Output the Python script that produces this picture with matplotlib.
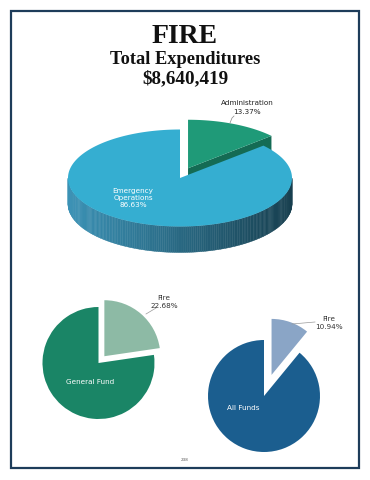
import numpy as np
import matplotlib.pyplot as plt
from matplotlib.patches import Polygon, Rectangle
from matplotlib.colors import to_rgb

# --- data ---
title = 'FIRE'
subtitle = 'Total Expenditures'
total = '$8,640,419'

dept_labels = ['Administration', 'Emergency\nOperations']
dept_values = [13.37, 86.63]
dept_colors = ['#1f9a78', '#35aed1']

gf_labels = ['Fire', 'General Fund']
gf_values = [22.68, 77.32]
gf_colors = ['#8dbaa5', '#1a8566']

af_labels = ['Fire', 'All Funds']
af_values = [10.94, 89.06]
af_colors = ['#8aa5c6', '#1b5e8f']

page_no = '238'

W, H = 370, 480
fig = plt.figure(figsize=(W / 100, H / 100), dpi=100)


def small_pie(values, colors, cx, cy, r, explode):
    L = 1.5
    R = r * L
    a = fig.add_axes([(cx - R) / W, (H - cy - R) / H, 2 * R / W, 2 * R / H])
    a.pie(values, colors=colors, startangle=90, counterclock=False,
          explode=explode, wedgeprops=dict(linewidth=0))
    a.set_xlim(-L, L)
    a.set_ylim(-L, L)
    a.axis('off')
    return a


small_pie(gf_values, gf_colors, 98.5, 363, 56, [0.16, 0])
small_pie(af_values, af_colors, 264, 396, 56, [0.40, 0])

# main axes in pixel coordinates, drawn on top
ax = fig.add_axes([0, 0, 1, 1], zorder=5)
ax.set_xlim(0, W)
ax.set_ylim(H, 0)
ax.axis('off')

ax.add_patch(Rectangle((10.5, 10.5), 348.5, 457.5, fill=False,
                       edgecolor='#1d3c5a', linewidth=1.6))

ax.text(185, 43, title, ha='center', va='baseline', fontsize=20,
        fontweight='bold', family='Liberation Serif', color='#111111')
ax.text(185, 63.5, subtitle, ha='center', va='baseline', fontsize=13.2,
        fontweight='bold', family='Liberation Serif', color='#111111')
ax.text(185, 83.5, total, ha='center', va='baseline', fontsize=13.8,
        fontweight='bold', family='Liberation Serif', color='#111111')

# --- 3D pie ---
cx, cy, rx, ry, depth = 180, 178, 112, 48.5, 26
fracs = np.array(dept_values) / sum(dept_values)
edges = 90 - 360 * np.concatenate([[0], np.cumsum(fracs)])


def rim(th, off=(0, 0), dz=0):
    t = np.radians(th)
    return np.column_stack([cx + off[0] + rx * np.cos(t),
                            cy + off[1] - ry * np.sin(t) + dz])


# administration slice (exploded)
a0, a1 = edges[0], edges[1]
mid = np.radians((a0 + a1) / 2)
e = 0.22
off = (e * rx * np.cos(mid) * 0.8, -e * ry * np.sin(mid))
apex = np.array([[cx + off[0], cy + off[1]]])
corner = rim(a1, off)
face = np.vstack([apex, corner, corner + [0, depth], apex + [0, depth]])
ax.add_patch(Polygon(face, closed=True, facecolor='#146b54', edgecolor='none'))
top = np.vstack([apex, rim(np.linspace(a0, a1, 60), off)])
ax.add_patch(Polygon(top, closed=True, facecolor=dept_colors[0], edgecolor='none'))

# emergency operations slice: outer wall with shading
c_light = np.array(to_rgb('#3b92b6'))
c_dark = np.array(to_rgb('#173f4f'))
th = np.linspace(-180, 0, 181)
for i in range(len(th) - 1):
    seg = rim(th[i:i + 2])
    quad = np.vstack([seg, seg[::-1] + [0, depth]])
    t = (np.cos(np.radians((th[i] + th[i + 1]) / 2)) + 1) / 2
    col = c_light * (1 - t) + c_dark * t
    ax.add_patch(Polygon(quad, closed=True, facecolor=col, edgecolor=col, linewidth=0.3))
b0, b1 = edges[1], edges[2]
top = np.vstack([[[cx, cy]], rim(np.linspace(b0, b1, 300))])
ax.add_patch(Polygon(top, closed=True, facecolor=dept_colors[1], edgecolor='none'))

lab = dict(family='DejaVu Sans', fontsize=5.2)
ax.text(247, 103, dept_labels[0], ha='center', va='center', color='#222222', **lab)
ax.text(247, 112.5, '%.2f%%' % dept_values[0], ha='center', va='center', color='#222222', **lab)
ax.plot([230, 232, 234], [123, 118, 116], color='#888888', lw=0.5)
ax.text(133, 198, dept_labels[1] + '\n%.2f%%' % dept_values[1], ha='center', va='center',
        color='white', linespacing=1.2, **lab)

# small pie labels
ax.text(164, 298, gf_labels[0], ha='center', va='center', color='#333333', **lab)
ax.text(164, 306, '%.2f%%' % gf_values[0], ha='center', va='center', color='#333333', **lab)
ax.plot([146, 156], [314, 308], color='#999999', lw=0.5)
ax.text(90, 382, gf_labels[1], ha='center', va='center', color='white', **lab)

ax.text(329, 319, af_labels[0], ha='center', va='center', color='#333333', **lab)
ax.text(329, 327, '%.2f%%' % af_values[0], ha='center', va='center', color='#333333', **lab)
ax.plot([292, 315], [324, 322], color='#999999', lw=0.5)
ax.text(243, 408, af_labels[1], ha='center', va='center', color='white', **lab)

ax.text(185, 460, page_no, ha='center', va='center', fontsize=3, color='#555555')

fig.savefig('out.png', dpi=100)
